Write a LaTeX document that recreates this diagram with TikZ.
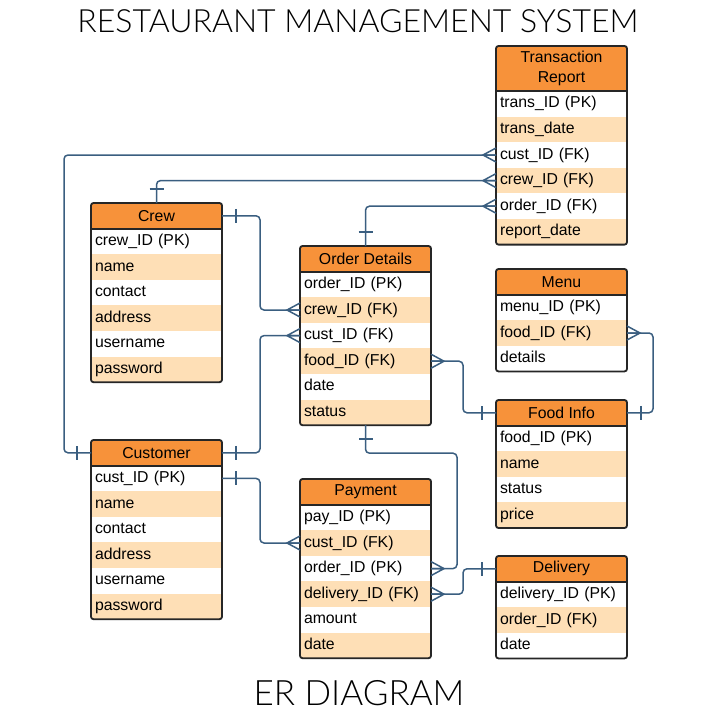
\documentclass[tikz,border=0pt]{standalone}
\usepackage{fontspec}
\setmainfont{Liberation Sans}
\newfontfamily\titlefont{Lato Light}
\usepackage{tikz}

\definecolor{headfill}{RGB}{247,146,58}
\definecolor{rowfill}{RGB}{254,223,182}
\definecolor{linkblue}{RGB}{58,94,128}

\tikzset{
  head/.style={anchor=north west, fill=headfill, minimum width=131pt, minimum height=25.6pt,
    inner sep=0pt, outer sep=0pt, align=center, font=\fontsize{15.8}{20}\selectfont},
  field/.style={anchor=north west, minimum width=131pt, minimum height=25.6pt,
    inner xsep=4pt, inner ysep=0pt, outer sep=0pt, text width=123pt, align=left,
    text height=11.5pt, text depth=3.5pt, font=\fontsize{15.8}{19}\selectfont},
  outline/.style={draw=black!85, line width=1.8pt, rounded corners=2.5pt},
  conn/.style={draw=linkblue, line width=1.5pt, rounded corners=4pt},
  crow/.pic={\draw[linkblue, line width=1.5pt] (0,-7) -- (13,0) -- (0,7) (0,0) -- (13,0);},
  onebar/.pic={\draw[linkblue, line width=1.5pt] (14,-7) -- (14,7);}
}

% rows of a table: name, left x, top y of the rows, fields
\newcommand{\erfields}[4]{%
  \foreach \f [count=\i] in {#4} {
    \pgfmathtruncatemacro\shade{100*(1-mod(\i,2))}
    \node[field, fill=rowfill!\shade!white] (#1-\i) at (#2,{#3+(\i-1)*25.6}) {\f};
  }}

\begin{document}
\begin{tikzpicture}[x=1pt,y=-1pt]
\fill[white] (0,0) rectangle (720,720);
\useasboundingbox (0,0) rectangle (720,720);

% Titles
\node[font=\titlefont\fontsize{32}{36}\selectfont] (title) at (358,21) {RESTAURANT MANAGEMENT SYSTEM};
\node[font=\titlefont\fontsize{35}{38}\selectfont] (subtitle) at (359,693) {ER DIAGRAM};

% Transaction Report
\node[head, minimum height=45pt] (tr) at (496,46) {Transaction\\Report};
\erfields{tr}{496}{91}{trans\_ID (PK),trans\_date,cust\_ID (FK),crew\_ID (FK),order\_ID (FK),report\_date}
\draw[outline] (tr.north west) rectangle (tr-6.south east);
\draw[outline] (tr.south west) -- (tr.south east);

% Crew
\node[head] (crew) at (91,203) {Crew};
\erfields{crew}{91}{228.6}{crew\_ID (PK),name,contact,address,username,password}
\draw[outline] (crew.north west) rectangle (crew-6.south east);
\draw[outline] (crew.south west) -- (crew.south east);

% Order Details
\node[head] (od) at (300,246) {Order Details};
\erfields{od}{300}{271.6}{order\_ID (PK),crew\_ID (FK),cust\_ID (FK),food\_ID (FK),date,status}
\draw[outline] (od.north west) rectangle (od-6.south east);
\draw[outline] (od.south west) -- (od.south east);

% Menu
\node[head] (menu) at (496,269) {Menu};
\erfields{menu}{496}{294.6}{menu\_ID (PK),food\_ID (FK),details}
\draw[outline] (menu.north west) rectangle (menu-3.south east);
\draw[outline] (menu.south west) -- (menu.south east);

% Food Info
\node[head] (food) at (496,400) {Food Info};
\erfields{food}{496}{425.6}{food\_ID (PK),name,status,price}
\draw[outline] (food.north west) rectangle (food-4.south east);
\draw[outline] (food.south west) -- (food.south east);

% Customer
\node[head] (cust) at (91,440) {Customer};
\erfields{cust}{91}{465.6}{cust\_ID (PK),name,contact,address,username,password}
\draw[outline] (cust.north west) rectangle (cust-6.south east);
\draw[outline] (cust.south west) -- (cust.south east);

% Payment
\node[head] (pay) at (300,479) {Payment};
\erfields{pay}{300}{504.6}{pay\_ID (PK),cust\_ID (FK),order\_ID (PK),delivery\_ID (FK),amount,date}
\draw[outline] (pay.north west) rectangle (pay-6.south east);
\draw[outline] (pay.south west) -- (pay.south east);

% Delivery
\node[head] (del) at (496,556) {Delivery};
\erfields{del}{496}{581.6}{delivery\_ID (PK),order\_ID (FK),date}
\draw[outline] (del.north west) rectangle (del-3.south east);
\draw[outline] (del.south west) -- (del.south east);

% Relations
\draw[conn] (tr-3.west) -| ([xshift=-27pt]cust.west) -- (cust.west);
\pic[rotate=180] at (tr-3.west) {crow};
\pic[rotate=180] at (cust.west) {onebar};

\draw[conn] (tr-4.west) -| (crew.north);
\pic[rotate=180] at (tr-4.west) {crow};
\pic[rotate=90] at (crew.north) {onebar};

\draw[conn] (tr-5.west) -| (od.north);
\pic[rotate=180] at (tr-5.west) {crow};
\pic[rotate=90] at (od.north) {onebar};

\draw[conn] (crew.east) -- ++(38,0) |- (od-2.west);
\pic at (crew.east) {onebar};
\pic[rotate=180] at (od-2.west) {crow};

\draw[conn] (cust.east) -- ++(38,0) |- (od-3.west);
\pic at (cust.east) {onebar};
\pic[rotate=180] at (od-3.west) {crow};

\draw[conn] (od-4.east) -- ++(32,0) |- (food.west);
\pic at (od-4.east) {crow};
\pic[rotate=180] at (food.west) {onebar};

\draw[conn] (menu-2.east) -- ++(26,0) |- (food.east);
\pic at (menu-2.east) {crow};
\pic at (food.east) {onebar};

\draw[conn] (cust-1.east) -- ++(38,0) |- (pay-2.west);
\pic at (cust-1.east) {onebar};
\pic[rotate=180] at (pay-2.west) {crow};

\draw[conn] (od-6.south) -- ++(0,28) -| ([xshift=26pt]pay-3.east) -- (pay-3.east);
\pic[rotate=-90] at (od-6.south) {onebar};
\pic at (pay-3.east) {crow};

\draw[conn] (del.west) -- ++(-33,0) |- (pay-4.east);
\pic[rotate=180] at (del.west) {onebar};
\pic at (pay-4.east) {crow};
\end{tikzpicture}
\end{document}
